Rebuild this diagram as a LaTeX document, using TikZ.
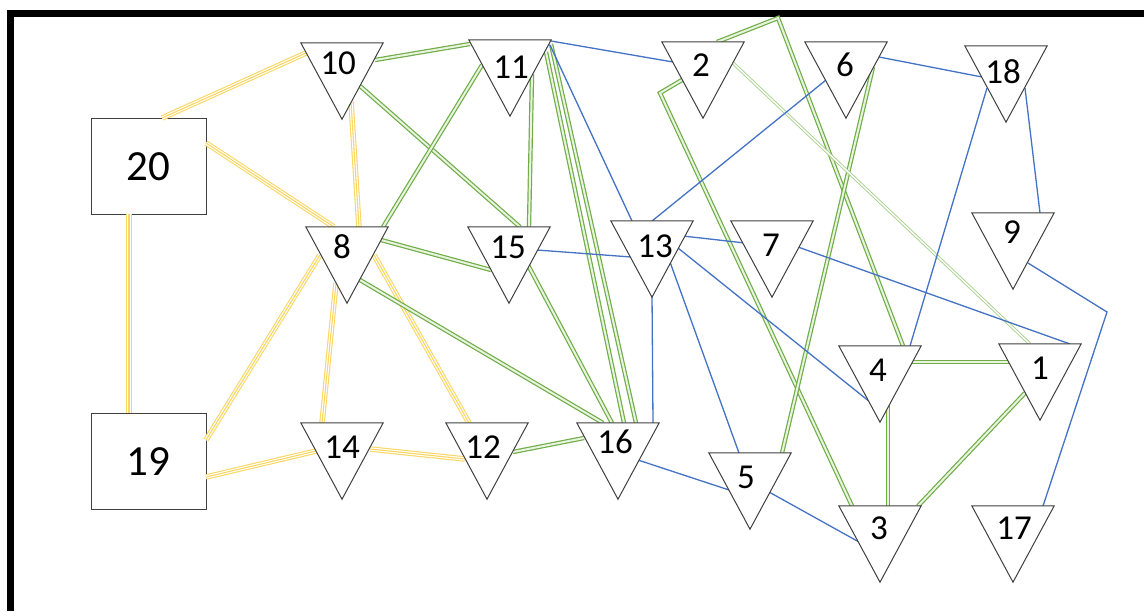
\documentclass[tikz,border=0pt]{standalone}
\usepackage{fontspec}
\setmainfont{Carlito}
\definecolor{ylw}{RGB}{250,215,100}
\definecolor{grn}{RGB}{112,173,71}
\definecolor{grnlt}{RGB}{232,243,224}
\definecolor{grnpale}{RGB}{169,209,142}
\definecolor{blu}{RGB}{68,114,196}
\definecolor{edgegray}{RGB}{64,64,64}
\begin{document}
\begin{tikzpicture}[x=1pt,y=-1pt,
  tri/.style={rectangle,minimum width=82pt,minimum height=76pt,inner sep=0pt},
  sq/.style={draw=edgegray,line width=1pt,fill=white,minimum width=115pt,minimum height=96pt,inner sep=0pt},
  num/.style={inner sep=0pt,font=\fontsize{35}{40}\selectfont},
  bignum/.style={inner sep=0pt,font=\fontsize{43}{48}\selectfont},
  ytrip/.style={draw=ylw,line width=5.5pt,postaction={draw=white,line width=3.3pt},postaction={draw=ylw,line width=1.1pt}},
  gdbl/.style={draw=grn,line width=1.2pt,double=grnlt,double distance=2pt},
  gpale/.style={draw=grnpale,line width=0.9pt,double=white,double distance=1.4pt},
  bl/.style={draw=blu,line width=1.3pt},
  trishape/.style={draw=edgegray,line width=1pt,fill=white,line join=miter}
]
\useasboundingbox (0,0) rectangle (1144,611);
\fill[white] (0,0) rectangle (1144,611);
\draw[line width=7pt,line join=miter] (10.5,611) -- (10.5,13.5) -- (1144,13.5);

% triangle placeholders
\node[tri] (t10) at (342,81) {};
\node[tri] (t11) at (510,78) {};
\node[tri] (t2) at (703,80) {};
\node[tri] (t6) at (846,80) {};
\node[tri] (t18) at (1006,84) {};
\node[tri] (t8) at (347,265) {};
\node[tri] (t15) at (509,265) {};
\node[tri] (t13) at (652,259) {};
\node[tri] (t7) at (772,259) {};
\node[tri] (t9) at (1013,251) {};
\node[tri] (t4) at (880,384) {};
\node[tri] (t1) at (1040,382) {};
\node[tri] (t3) at (880,544) {};
\node[tri] (t17) at (1013,544) {};
\node[tri] (t14) at (342,461) {};
\node[tri] (t12) at (487,461) {};
\node[tri] (t16) at (618,461) {};
\node[tri] (t5) at (750,491) {};
\node[sq] (s20) at (148.5,166) {};
\node[sq] (s19) at (148.5,461) {};

\coordinate (c23) at (660,93);
\coordinate (c24) at (778,18);
\coordinate (c917) at (1107,312);

% yellow
\draw[ytrip] ([shift={(13.5,-48)}]s20.center) -- ([shift={(-36,-28)}]t10.center);
\draw[ytrip] ([shift={(57.5,-23)}]s20.center) -- ([shift={(-13,-38)}]t8.center);
\draw[ytrip] ([shift={(9,21)}]t10.center) -- ([shift={(12,-38)}]t8.center);
\draw[ytrip] ([shift={(-19.5,48)}]s20.center) -- ([shift={(-19.5,-48)}]s19.center);
\draw[ytrip] ([shift={(57.5,-21)}]s19.center) -- ([shift={(-27,-10)}]t8.center);
\draw[ytrip] ([shift={(57.5,16)}]s19.center) -- ([shift={(-26,-10)}]t14.center);
\draw[ytrip] ([shift={(-11,18)}]t8.center) -- ([shift={(-20,-38)}]t14.center);
\draw[ytrip] ([shift={(27,-10)}]t8.center) -- ([shift={(-18,-38)}]t12.center);
\draw[ytrip] ([shift={(28,-12)}]t14.center) -- ([shift={(-22,-2)}]t12.center);

% green
\draw[gdbl] ([shift={(33,-21)}]t10.center) -- ([shift={(-40,-34)}]t11.center);
\draw[gdbl] ([shift={(18,5)}]t10.center) -- ([shift={(11,-38)}]t15.center);
\draw[gdbl] ([shift={(-28,-13)}]t11.center) -- ([shift={(36,-38)}]t8.center);
\draw[gdbl] ([shift={(22,-4)}]t11.center) -- ([shift={(20,-38)}]t15.center);
\draw[gdbl] ([shift={(36,-26)}]t11.center) -- ([shift={(6,-38)}]t16.center);
\draw[gdbl] ([shift={(41,-34)}]t11.center) -- ([shift={(18,-38)}]t16.center);
\draw[gdbl] ([shift={(34,-25)}]t8.center) -- ([shift={(-18,5)}]t15.center);
\draw[gdbl] ([shift={(13,15)}]t8.center) -- ([shift={(-15,-38)}]t16.center);
\draw[gdbl] ([shift={(19,0)}]t15.center) -- ([shift={(-6,-38)}]t16.center);
\draw[gdbl] ([shift={(26,-9)}]t12.center) -- ([shift={(-34,-23)}]t16.center);
\draw[gdbl] ([shift={(-21,0)}]t2.center) -- (c23) -- ([shift={(-28,-38)}]t3.center);
\draw[gdbl] ([shift={(14,-38)}]t2.center) -- (c24) -- ([shift={(23,-38)}]t4.center);
\draw[gdbl] ([shift={(27,-13)}]t6.center) -- ([shift={(32,-38)}]t5.center);
\draw[gdbl] ([shift={(32,-22)}]t4.center) -- ([shift={(-31,-20)}]t1.center);
\draw[gdbl] ([shift={(8,21)}]t4.center) -- ([shift={(8,-38)}]t3.center);
\draw[gdbl] ([shift={(-15,11)}]t1.center) -- ([shift={(38,-38)}]t3.center);
\draw[gpale] ([shift={(30,-17)}]t2.center) -- ([shift={(-10,-38)}]t1.center);

% blue
\draw[bl] ([shift={(41,-37)}]t11.center) -- ([shift={(-30,-18)}]t2.center);
\draw[bl] ([shift={(40,-33)}]t11.center) -- ([shift={(-20,-38)}]t13.center);
\draw[bl] ([shift={(-20,0)}]t6.center) -- ([shift={(0,-38)}]t13.center);
\draw[bl] ([shift={(33,-23)}]t6.center) -- ([shift={(-24,-7)}]t18.center);
\draw[bl] ([shift={(-19,4)}]t18.center) -- ([shift={(30,-38)}]t4.center);
\draw[bl] ([shift={(19,4)}]t18.center) -- ([shift={(27,-38)}]t9.center);
\draw[bl] ([shift={(15,12)}]t9.center) -- (c917) -- ([shift={(30,-38)}]t17.center);
\draw[bl] ([shift={(26,-12)}]t7.center) -- ([shift={(30,-38)}]t1.center);
\draw[bl] ([shift={(31,-23)}]t13.center) -- ([shift={(-27,-16)}]t7.center);
\draw[bl] ([shift={(28,-15)}]t15.center) -- ([shift={(-21,-2)}]t13.center);
\draw[bl] ([shift={(0,35)}]t13.center) -- ([shift={(35,-38)}]t16.center);
\draw[bl] ([shift={(18,3)}]t13.center) -- ([shift={(-11,-38)}]t5.center);
\draw[bl] ([shift={(26,-11)}]t13.center) -- ([shift={(-10,18)}]t4.center);
\draw[bl] ([shift={(20,-1)}]t16.center) -- ([shift={(-21,-1)}]t5.center);
\draw[bl] ([shift={(19,1)}]t5.center) -- ([shift={(-21,-2)}]t3.center);

% triangles
\foreach \n in {1,...,18} {
  \draw[trishape] (t\n.north west) -- (t\n.north east) -- (t\n.south) -- cycle;
}

% labels
\node[num] (l10) at (338,63) {10};
\node[num] (l11) at (511,67) {11};
\node[num] (l2) at (701,65) {2};
\node[num] (l6) at (845,65) {6};
\node[num] (l18) at (1003,72) {18};
\node[num] (l8) at (342,247) {8};
\node[num] (l15) at (508,247) {15};
\node[num] (l13) at (655,246) {13};
\node[num] (l7) at (771,245) {7};
\node[num] (l9) at (1012,232) {9};
\node[num] (l4) at (878,370) {4};
\node[num] (l1) at (1040,368) {1};
\node[num] (l3) at (879,528) {3};
\node[num] (l17) at (1014,528) {17};
\node[num] (l12) at (483,447) {12};
\node[num] (l16) at (615,442) {16};
\node[num] (l5) at (746,477) {5};
\node[num] (l14) at (342,447) {14};
\node[bignum] (l20) at (148,167) {20};
\node[bignum] (l19) at (148,462) {19};
\end{tikzpicture}
\end{document}
